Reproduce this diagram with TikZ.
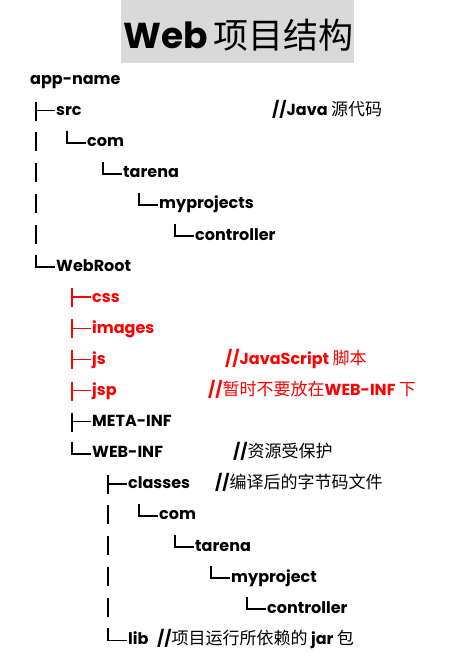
\documentclass[tikz,border=0pt]{standalone}
\usepackage{fontspec}
\setmainfont{Poppins}
\newfontfamily\cjk{Noto Sans CJK SC}
\definecolor{titlegray}{HTML}{D9D9D9}
\definecolor{dirred}{HTML}{FF0000}

\newcommand{\zh}[1]{{\cjk\mdseries\fontsize{17}{17}\selectfont #1}}
\tikzset{
  dir/.style={anchor=base west, inner sep=0pt, font=\fontsize{16}{16}\selectfont\bfseries},
  note/.style={dir},
  branch/.style={line width=1.6pt},
}
% tree glyphs drawn in front of a node: tee, corner and pipe
\newcommand{\teebranch}[2][black]{%
  \draw[branch,#1] (#2.base west) ++(-20,-14) -- ++(0,19);
  \draw[branch,#1] (#2.base west) ++(-20,-5) -- ++(19,0);}
\newcommand{\cornerbranch}[2][black]{%
  \draw[branch,#1] (#2.base west) ++(-20,-16) -- ++(0,12) -- ++(19,0);}
\newcommand{\pipebranch}[2]{%
  \draw[branch] (#2.base west -| #1.base west) ++(-20,-15) -- ++(0,19);}

\begin{document}
\begin{tikzpicture}[x=1pt,y=-1pt]
  \useasboundingbox (0,0) rectangle (475,664);

  % Title
  \fill[titlegray] (121,0) rectangle (354,63);
  \node[anchor=base west, inner sep=0pt] (title) at (123,48)
    {{\fontsize{36}{36}\selectfont\bfseries Web}\hspace{6pt}{\cjk\fontsize{35}{35}\selectfont 项目结构}};

  % src branch
  \node[dir] (app) at (30,84.5) {app-name};
  \node[dir] (src) at (56,115.6) {src};
  \node[dir] (com) at (87,146.7) {com};
  \node[dir] (tarena) at (123,177.8) {tarena};
  \node[dir] (myprojects) at (159,208.9) {myprojects};
  \node[dir] (controller) at (195,240.0) {controller};

  % WebRoot branch
  \node[dir] (webroot) at (56,271.1) {WebRoot};
  \node[dir,dirred] (css) at (92,302.2) {css};
  \node[dir,dirred] (images) at (92,333.3) {images};
  \node[dir,dirred] (js) at (92,364.4) {js};
  \node[dir,dirred] (jsp) at (92,395.5) {jsp};
  \node[dir] (metainf) at (92,426.6) {META-INF};
  \node[dir] (webinf) at (92,457.7) {WEB-INF};
  \node[dir] (classes) at (128,488.8) {classes};
  \node[dir] (ccom) at (159,519.9) {com};
  \node[dir] (ctarena) at (195,551.0) {tarena};
  \node[dir] (cmyproject) at (231,582.1) {myproject};
  \node[dir] (ccontroller) at (267,613.2) {controller};
  \node[dir] (lib) at (128,644.3) {lib};

  % Comments
  \node[note] (srcnote) at (272,115.6) {//Java \zh{源代码}};
  \node[note,dirred] (jsnote) at (225,364.4) {//JavaScript \zh{脚本}};
  \node[note,dirred] (jspnote) at (208,395.5) {//\zh{暂时不要放在}WEB-INF \zh{下}};
  \node[note] (webinfnote) at (233,457.7) {//\zh{资源受保护}};
  \node[note] (classesnote) at (215,488.8) {//\zh{编译后的字节码文件}};
  \node[note] (libnote) at (157,644.3) {//\zh{项目运行所依赖的} jar \zh{包}};

  % Tree lines
  \teebranch{src}
  \cornerbranch{com}
  \cornerbranch{tarena}
  \cornerbranch{myprojects}
  \cornerbranch{controller}
  \pipebranch{src}{com}
  \pipebranch{src}{tarena}
  \pipebranch{src}{myprojects}
  \pipebranch{src}{controller}
  \cornerbranch{webroot}
  \teebranch[dirred]{css}
  \teebranch[dirred]{images}
  \teebranch[dirred]{js}
  \teebranch[dirred]{jsp}
  \teebranch{metainf}
  \cornerbranch{webinf}
  \teebranch{classes}
  \cornerbranch{ccom}
  \cornerbranch{ctarena}
  \cornerbranch{cmyproject}
  \cornerbranch{ccontroller}
  \pipebranch{classes}{ccom}
  \pipebranch{classes}{ctarena}
  \pipebranch{classes}{cmyproject}
  \pipebranch{classes}{ccontroller}
  \cornerbranch{lib}

\end{tikzpicture}
\end{document}
